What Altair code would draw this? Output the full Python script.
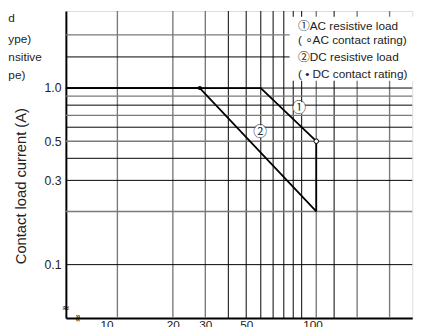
import altair as alt
import pandas as pd

# ---- data ----
# axis tick labels
x_tick_values = [10, 20, 30, 50, 100]
y_tick_values = [0.1, 0.3, 0.5, 1.0]

# grid lines (voltage, current)
x_grid_dark = [40, 50, 60, 70, 80, 90, 100, 150]
x_grid_light = [10, 20, 30, 120, 200, 300]
y_grid_dark = [0.1, 0.3, 0.4, 0.6, 0.8, 1.0, 1.5]
y_grid_light = [0.2, 0.5, 0.7, 0.9, 2.0]

# curves: ① AC resistive load, ② DC resistive load
x_min, x_max = 5.254, 398.2
y_min, y_max = 0.0498, 2.73
ac_voltage = [x_min, 60, 120, 120]
ac_current = [1.0, 1.0, 0.5, 0.2]
dc_voltage = [x_min, 28, 120]
dc_current = [1.0, 1.0, 0.2]

# contact ratings
ac_rating_v, ac_rating_i = [120], [0.5]
dc_rating_v, dc_rating_i = [28], [1.0]

# texts
legend_lines = ["①AC resistive load", "( ∘AC contact rating)",
                "②DC resistive load", "( • DC contact rating)"]
legend_current = [2.244, 1.877, 1.496, 1.204]
left_fragments = ["d", "ype)", "nsitive", "pe)"]
left_frag_v = [2.56, 2.56, 2.56, 2.56]
left_frag_i = [2.496, 1.891, 1.496, 1.189]
curve_tags = ["①", "②"]
curve_tag_v = [97.0, 59.5]
curve_tag_i = [0.772, 0.566]
break_v = [x_min, 6.085]
break_i = [0.0566, y_min]

FONT = "Liberation Sans, Arial, Noto Sans CJK JP, DejaVu Sans"

xs = alt.Scale(type="log", domain=[x_min, x_max], nice=False)
ys = alt.Scale(type="log", domain=[y_min, y_max], nice=False)

x_axis = alt.Axis(values=x_tick_values, format="d", grid=False, ticks=False,
                  domain=True, domainWidth=2, domainColor="black",
                  labelFontSize=12, labelPadding=2, labelColor="#222",
                  labelFont=FONT, labelFlush=False, title=None,
                  labelOffset={"condition": [
                      {"test": "datum.value == 10", "value": -11},
                      {"test": "datum.value == 100", "value": 11}],
                      "value": 0})
y_axis = alt.Axis(values=y_tick_values, format=".1f", grid=False, ticks=False,
                  domain=True, domainWidth=2, domainColor="black",
                  labelFontSize=12.5, labelPadding=5, labelColor="#222",
                  labelFont=FONT, title="Contact load current (A)",
                  titleFont=FONT, titleFontSize=15, titleFontWeight="normal",
                  titleColor="#222", titleAngle=-90, titleAlign="center",
                  titleBaseline="middle", titleX=-46, titleY=178)


def X(field):
    return alt.X(f"{field}:Q", scale=xs, axis=x_axis)


def Y(field):
    return alt.Y(f"{field}:Q", scale=ys, axis=y_axis)


# grid
vg_dark = alt.Chart(pd.DataFrame({"v": x_grid_dark})).mark_rule(
    color="black", strokeWidth=1).encode(x=X("v"))
vg_light = alt.Chart(pd.DataFrame({"v": x_grid_light})).mark_rule(
    color="#7a7a7a", strokeWidth=1.4).encode(x=X("v"))
hg_dark = alt.Chart(pd.DataFrame({"i": y_grid_dark})).mark_rule(
    color="black", strokeWidth=1).encode(y=Y("i"))
hg_light = alt.Chart(pd.DataFrame({"i": y_grid_light})).mark_rule(
    color="#7a7a7a", strokeWidth=1.4).encode(y=Y("i"))

# white legend box
box = alt.Chart(pd.DataFrame({"v": [86.0], "v2": [520.0],
                              "i": [1.10], "i2": [2.53]})).mark_rect(
    color="white").encode(x=X("v"), x2="v2:Q", y=Y("i"), y2="i2:Q")

# curves
ac = alt.Chart(pd.DataFrame({"v": ac_voltage, "i": ac_current,
                             "o": list(range(len(ac_voltage)))})).mark_line(
    color="black", strokeWidth=1.8).encode(x=X("v"), y=Y("i"), order="o:Q")
dc = alt.Chart(pd.DataFrame({"v": dc_voltage, "i": dc_current,
                             "o": list(range(len(dc_voltage)))})).mark_line(
    color="black", strokeWidth=1.8).encode(x=X("v"), y=Y("i"), order="o:Q")

ac_pt = alt.Chart(pd.DataFrame({"v": ac_rating_v, "i": ac_rating_i})).mark_point(
    shape="circle", filled=True, fill="white", stroke="black", strokeWidth=1,
    size=22, opacity=1).encode(x=X("v"), y=Y("i"))
dc_pt = alt.Chart(pd.DataFrame({"v": dc_rating_v, "i": dc_rating_i})).mark_circle(
    color="black", size=18, opacity=1).encode(x=X("v"), y=Y("i"))

# circled tags on curves
tag_df = pd.DataFrame({"v": curve_tag_v, "i": curve_tag_i, "t": curve_tags})
tag_bg = alt.Chart(tag_df).mark_circle(color="white", size=170, opacity=1).encode(
    x=X("v"), y=Y("i"))
tag_txt = alt.Chart(tag_df).mark_text(font=FONT, fontSize=14, color="#333",
                                      baseline="middle", align="center").encode(
    x=X("v"), y=Y("i"), text="t:N")

# legend text
leg = alt.Chart(pd.DataFrame({"v": [95.5] * 4, "i": legend_current,
                              "t": legend_lines})).mark_text(
    font=FONT, fontSize=12, color="#222", align="left", baseline="middle").encode(
    x=X("v"), y=Y("i"), text="t:N")

# cut-off text at the left edge
left = alt.Chart(pd.DataFrame({"v": left_frag_v, "i": left_frag_i,
                               "t": left_fragments})).mark_text(
    font=FONT, fontSize=12, color="#222", align="left", baseline="middle").encode(
    x=X("v"), y=Y("i"), text="t:N")

# axis break marks
brk_y = alt.Chart(pd.DataFrame({"v": break_v[:1], "i": break_i[:1]})).mark_text(
    text="≈", font="DejaVu Sans", fontSize=10, color="black", angle=0,
    baseline="middle", align="center").encode(x=X("v"), y=Y("i"))
brk_x = alt.Chart(pd.DataFrame({"v": break_v[1:], "i": break_i[1:]})).mark_text(
    text="≈", font="DejaVu Sans", fontSize=10, color="black", angle=90,
    baseline="middle", align="center").encode(x=X("v"), y=Y("i"))

chart = alt.layer(
    vg_dark, vg_light, hg_dark, hg_light, box, ac, dc, ac_pt, dc_pt,
    tag_bg, tag_txt, leg, left, brk_y, brk_x
).properties(
    width=353, height=313,
    autosize=alt.AutoSizeParams(type="none"),
    padding={"left": 59, "top": 0, "right": 13, "bottom": 6},
).configure_view(stroke=None).configure(font=FONT)

chart.save("out.html", embed_options={"renderer": "svg", "actions": False})
